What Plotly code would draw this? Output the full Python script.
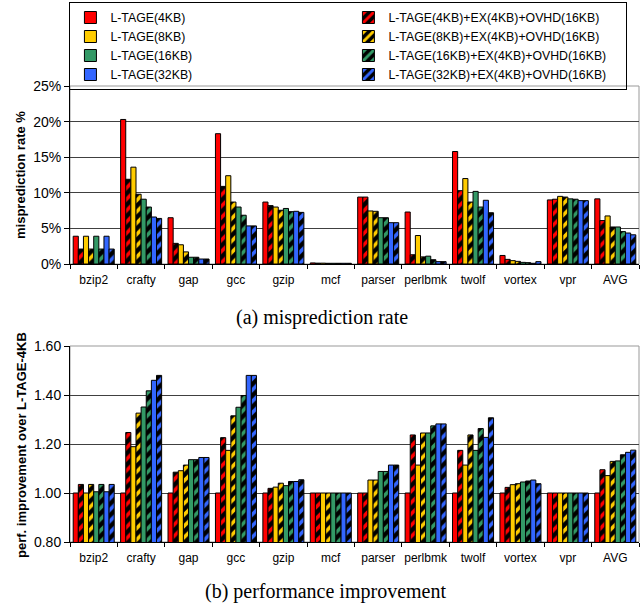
import plotly.graph_objects as go

categories = ["bzip2", "crafty", "gap", "gcc", "gzip", "mcf", "parser",
              "perlbmk", "twolf", "vortex", "vpr", "AVG"]

series_names = ["L-TAGE(4KB)", "L-TAGE(4KB)+EX(4KB)+OVHD(16KB)",
                "L-TAGE(8KB)", "L-TAGE(8KB)+EX(4KB)+OVHD(16KB)",
                "L-TAGE(16KB)", "L-TAGE(16KB)+EX(4KB)+OVHD(16KB)",
                "L-TAGE(32KB)", "L-TAGE(32KB)+EX(4KB)+OVHD(16KB)"]

# (a) misprediction rate (%)
mis_4 = [3.9, 20.3, 6.5, 18.3, 8.7, 0.15, 9.4, 7.3, 15.8, 1.2, 9.0, 9.15]
mis_4x = [2.1, 11.9, 2.9, 10.9, 8.2, 0.12, 9.4, 1.3, 10.3, 0.65, 9.1, 6.1]
mis_8 = [3.9, 13.6, 2.7, 12.4, 8.0, 0.12, 7.45, 4.0, 12.0, 0.47, 9.5, 6.75]
mis_8x = [2.1, 9.8, 1.7, 8.7, 7.55, 0.1, 7.4, 1.0, 8.7, 0.37, 9.4, 5.2]
mis_16 = [3.9, 9.1, 0.95, 8.0, 7.8, 0.1, 6.5, 1.1, 10.2, 0.23, 9.15, 5.2]
mis_16x = [2.1, 8.0, 0.95, 6.85, 7.35, 0.1, 6.5, 0.6, 8.0, 0.19, 9.1, 4.55]
mis_32 = [3.9, 6.6, 0.7, 5.35, 7.4, 0.1, 5.8, 0.33, 8.95, 0.1, 8.9, 4.35]
mis_32x = [2.1, 6.4, 0.7, 5.35, 7.25, 0.1, 5.8, 0.33, 7.2, 0.33, 8.9, 4.1]

# (b) performance improvement over L-TAGE-4KB
perf_4 = [1.0, 1.0, 1.0, 1.0, 1.0, 1.0, 1.0, 1.0, 1.0, 1.0, 1.0, 1.0]
perf_4x = [1.035, 1.247, 1.085, 1.226, 1.019, 1.0, 1.0, 1.237, 1.174, 1.023, 1.0, 1.095]
perf_8 = [1.0, 1.189, 1.091, 1.174, 1.024, 1.0, 1.053, 1.114, 1.114, 1.034, 1.0, 1.071]
perf_8x = [1.035, 1.326, 1.114, 1.315, 1.04, 1.0, 1.053, 1.245, 1.237, 1.038, 1.0, 1.129]
perf_16 = [1.005, 1.351, 1.136, 1.35, 1.03, 1.0, 1.088, 1.245, 1.174, 1.045, 1.0, 1.131]
perf_16x = [1.035, 1.417, 1.136, 1.398, 1.047, 1.0, 1.088, 1.274, 1.263, 1.049, 1.0, 1.156]
perf_32 = [1.005, 1.46, 1.145, 1.48, 1.047, 1.0, 1.114, 1.282, 1.227, 1.053, 1.0, 1.166]
perf_32x = [1.035, 1.48, 1.145, 1.48, 1.054, 1.0, 1.114, 1.282, 1.307, 1.038, 1.0, 1.175]

mis_series = [mis_4, mis_4x, mis_8, mis_8x, mis_16, mis_16x, mis_32, mis_32x]
perf_series = [perf_4, perf_4x, perf_8, perf_8x, perf_16, perf_16x, perf_32, perf_32x]

colors = ["#FF0000", "#FF0000", "#FFCC00", "#FFCC00",
          "#339966", "#339966", "#3366FF", "#3366FF"]
hatched = [False, True, False, True, False, True, False, True]

FONT = "Arial, Liberation Sans, sans-serif"
SERIF = "Times New Roman, Liberation Serif, serif"

fig = go.Figure()


def marker_for(i):
    m = dict(color=colors[i], line=dict(color="black", width=1))
    if hatched[i]:
        m["pattern"] = dict(shape="/", bgcolor="black", fgcolor=colors[i],
                            fgopacity=1, size=8, solidity=0.45,
                            fillmode="replace")
    return m


for i, name in enumerate(series_names):
    fig.add_trace(go.Bar(x=categories, y=mis_series[i], name=name,
                         marker=marker_for(i), xaxis="x", yaxis="y",
                         showlegend=True))
for i, name in enumerate(series_names):
    fig.add_trace(go.Bar(x=categories, y=perf_series[i], name=name,
                         marker=marker_for(i), xaxis="x2", yaxis="y2",
                         showlegend=False))

W = 642
H = 610
L = 70
R = 3
T = 86
PH = H - T
PW = W - L - R


def py(px):
    return (H - px) / PH


def pxx(px):
    return (px - L) / PW


axis_common = dict(showline=True, linecolor="black", linewidth=1,
                   ticks="outside", ticklen=5, tickcolor="black",
                   tickfont=dict(family=FONT, size=14, color="black"),
                   zeroline=False)
xaxis_common = dict(type="category", showline=True, linecolor="black",
                    linewidth=1, ticks="outside", ticklen=4,
                    tickcolor="black", tickson="boundaries",
                    showgrid=False, tickangle=0, ticklabelstandoff=5,
                    tickfont=dict(family=FONT, size=12, color="black"))

fig.update_layout(
    width=W, height=H,
    margin=dict(l=L, r=R, t=T, b=0, autoexpand=False),
    paper_bgcolor="white", plot_bgcolor="white",
    barmode="group", bargap=0.135, bargroupgap=0,
    font=dict(family=FONT, color="black"),
    xaxis=dict(domain=[0, 1], anchor="y", **xaxis_common),
    yaxis=dict(domain=[py(264), 1.0], anchor="x", range=[0, 25], dtick=5,
               ticksuffix="%", showgrid=True, gridcolor="#404040",
               gridwidth=1, **axis_common),
    xaxis2=dict(domain=[0, 1], anchor="y2", **xaxis_common),
    yaxis2=dict(domain=[py(542), py(346)], anchor="x2", range=[0.8, 1.6],
                dtick=0.2, tickformat=".2f", showgrid=True,
                gridcolor="#404040", gridwidth=1, **axis_common),
    legend=dict(orientation="h", x=-0.001, xanchor="left", y=py(2),
                yanchor="top", entrywidth=233, entrywidthmode="pixels",
                bordercolor="black", borderwidth=1,
                bgcolor="rgba(255,255,255,0)",
                font=dict(family=FONT, size=12.3, color="black"),
                traceorder="normal"),
    shapes=[
        dict(type="rect", xref="x domain", yref="y domain", x0=0, x1=1,
             y0=0, y1=1, line=dict(color="#999999", width=1), layer="below"),
        dict(type="rect", xref="x2 domain", yref="y2 domain", x0=0, x1=1,
             y0=0, y1=1, line=dict(color="#999999", width=1), layer="below"),
    ],
    annotations=[
        dict(text="(a) misprediction rate", xref="paper", yref="paper",
             x=pxx(322), y=py(317), xanchor="center",
             yanchor="middle", showarrow=False,
             font=dict(family=SERIF, size=20, color="black")),
        dict(text="(b) performance improvement", xref="paper", yref="paper",
             x=pxx(325), y=py(591), xanchor="center",
             yanchor="middle", showarrow=False,
             font=dict(family=SERIF, size=20, color="black")),
        dict(text="<b>misprediction rate %</b>", xref="paper", yref="paper",
             x=pxx(20), y=py(175), xanchor="center",
             yanchor="middle", textangle=-90, showarrow=False,
             font=dict(family=FONT, size=13, color="black")),
        dict(text="<b>perf. improvement over L-TAGE-4KB</b>", xref="paper",
             yref="paper", x=pxx(21), y=py(445), xanchor="center",
             yanchor="middle", textangle=-90, showarrow=False,
             font=dict(family=FONT, size=13, color="black")),
    ],
)

fig.write_html("out.html",
               config={"displayModeBar": False},
               post_script="document.body.style.margin='0px';")
